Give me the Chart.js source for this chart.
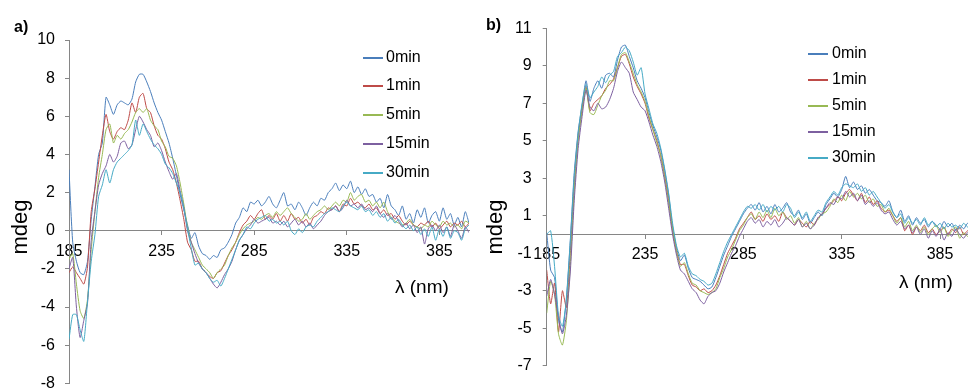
<!DOCTYPE html>
<html>
<head>
<meta charset="utf-8">
<script src="https://cdn.jsdelivr.net/npm/chart.js@4.4.0/dist/chart.umd.min.js"></script>
<style>
  html, body { margin: 0; padding: 0; background: #fff; }
  body { width: 968px; height: 389px; position: relative; overflow: hidden; font-family: "Liberation Sans", Arial, sans-serif; color: #000; }
  canvas { position: absolute; top: 0; }
  #chartA { left: 0; }
  #chartB { left: 480px; }
  .txt { position: absolute; white-space: nowrap; }
  .tag { font-weight: bold; font-size: 16px; line-height: 18px; }
  .xtitle { font-size: 19px; line-height: 22px; }
  .ytitle { font-size: 22px; line-height: 26px; width: 80px; text-align: center; transform: rotate(-90deg); }
  .leg { position: absolute; font-size: 16px; line-height: 20px; white-space: nowrap; }
  .leg i { position: absolute; top: 10px; width: 20px; height: 1.5px; }
  .leg span { position: absolute; top: 0; }
</style>
</head>
<body>
<canvas id="chartA" width="480" height="389"></canvas>
<canvas id="chartB" width="488" height="389"></canvas>

<div class="txt tag" style="left:14px; top:18px;">a)</div>
<div class="txt tag" style="left:486px; top:16px;">b)</div>
<div class="txt ytitle" style="left:-20px; top:214px;">mdeg</div>
<div class="txt ytitle" style="left:455px; top:214px;">mdeg</div>
<div class="txt xtitle" style="left:395px; top:276px;">λ (nm)</div>
<div class="txt xtitle" style="left:899px; top:271px;">λ (nm)</div>
<div id="legendA"></div>
<div id="legendB"></div>

<script>
// wavelength (nm), every 2 nm
const WAVELENGTHS = [
  185, 187, 189, 191, 193, 195, 197, 199, 201, 203,
  205, 207, 209, 211, 213, 215, 217, 219, 221, 223,
  225, 227, 229, 231, 233, 235, 237, 239, 241, 243,
  245, 247, 249, 251, 253, 255, 257, 259, 261, 263,
  265, 267, 269, 271, 273, 275, 277, 279, 281, 283,
  285, 287, 289, 291, 293, 295, 297, 299, 301, 303,
  305, 307, 309, 311, 313, 315, 317, 319, 321, 323,
  325, 327, 329, 331, 333, 335, 337, 339, 341, 343,
  345, 347, 349, 351, 353, 355, 357, 359, 361, 363,
  365, 367, 369, 371, 373, 375, 377, 379, 381, 383,
  385, 387, 389, 391, 393, 395, 397, 399, 401,
];

const SERIES_NAMES = ["0min", "1min", "5min", "15min", "30min"];
const X_TICKS = [185, 235, 285, 335, 385];
const A_Y_TICKS = [-8, -6, -4, -2, 0, 2, 4, 6, 8, 10];
const B_Y_TICKS = [-7, -5, -3, -1, 1, 3, 5, 7, 9, 11];

// panel a) mdeg
const A_0MIN = [
  3.2, -0.6, -1.6, -2.2, -2.3, -1.6, 0.6, 2.3, 4.0, 4.6,
  7.0, 6.6, 6.1, 6.6, 6.8, 6.7, 6.6, 6.9, 7.8, 8.2,
  8.2, 7.8, 7.3, 6.7, 6.2, 5.8, 5.2, 4.6, 3.8, 2.9,
  1.9, 1.1, 0.3, -0.4, -0.1, -0.8, -1.2, -1.3, -1.5, -1.3,
  -1.4, -1.0, -0.9, -0.6, -0.2, 0.4, 0.7, 1.2, 1.0, 1.5,
  1.4, 1.6, 1.3, 1.5, 1.8, 1.4, 1.2, 1.6, 2.0, 1.3,
  1.4, 1.1, 1.5, 1.2, 0.8, 1.2, 1.5, 1.3, 1.7, 1.6,
  2.0, 2.2, 2.5, 2.1, 2.4, 2.2, 2.6, 2.0, 2.3, 1.9,
  2.2, 1.8, 1.9, 1.5, 1.7, 1.2, 1.9, 1.3, 1.1, 0.8,
  1.3, 0.6, 0.9, 0.4, 1.1, 0.7, 1.2, 0.4, 0.8, 1.0,
  0.5, 1.2, 0.6, 0.9, 0.3, 0.7, 0.2, 1.0, 0.4,
];
const A_1MIN = [
  -2.2, -1.9, -2.2, -2.5, -2.8, -1.9, 1.0, 2.2, 3.6, 5.0,
  6.1, 5.2, 4.8, 5.2, 5.4, 5.3, 5.8, 6.7, 6.2, 7.0,
  7.2, 6.4, 6.2, 5.5, 5.0, 4.8, 4.3, 3.6, 3.2, 2.5,
  1.6, 0.6, -0.6, -1.0, -1.6, -1.6, -2.0, -2.2, -2.4, -2.5,
  -2.2, -2.1, -1.7, -1.3, -1.0, -0.6, -0.1, 0.3, 0.5, 0.8,
  0.6, 0.9, 1.1, 0.6, 0.8, 0.6, 0.9, 0.5, 0.8, 0.5,
  0.9, 0.6, 0.7, 0.4, 0.6, 0.3, 0.7, 0.8, 1.0, 0.9,
  1.2, 1.1, 1.3, 1.0, 1.4, 1.3, 1.7, 1.4, 1.5, 1.3,
  1.2, 1.4, 1.1, 1.2, 0.9, 1.1, 0.8, 0.9, 0.6, 0.8,
  0.5, 0.3, 0.5, 0.3, 0.2, 0.4, 0.3, 0.5, 0.2, 0.4,
  0.1, 0.3, 0.5, 0.2, 0.4, 0.3, 0.5, 0.2, 0.4,
];
const A_5MIN = [
  -1.5, -1.2, -2.8, -4.2, -4.6, -3.6, -1.0, 1.0, 2.8, 4.0,
  5.3, 5.6, 4.6, 5.0, 4.8, 5.1, 5.3, 5.7, 6.2, 6.4,
  6.2, 6.4, 5.8, 5.5, 5.3, 4.7, 4.4, 3.9, 3.8, 3.4,
  2.5, 1.4, 0.2, -0.6, -1.0, -1.4, -1.8, -2.0, -2.2, -2.5,
  -2.2, -2.0, -1.8, -1.3, -0.9, -0.6, -0.2, 0.1, 0.3, 0.4,
  0.5, 0.7, 0.6, 0.8, 0.9, 0.7, 1.0, 0.8, 1.0, 1.2,
  0.9, 0.7, 0.5, 0.6, 0.9, 0.6, 0.8, 1.0, 1.1, 1.3,
  1.1, 1.3, 1.5, 1.3, 1.6, 1.5, 2.0, 1.6, 1.8, 1.9,
  1.5, 1.6, 1.3, 1.5, 1.2, 1.5, 1.0, 0.7, 0.5, 0.4,
  0.3, 0.4, 0.6, 0.3, 0.2, 0.1, 0.3, 0.2, 0.5, 0.3,
  0.2, 0.5, 0.3, 0.4, 0.2, 0.3, 0.1, 0.5, 0.4,
];
const A_15MIN = [
  -2.0, -1.4, -4.0, -5.6, -4.7, -3.8, -0.5, 1.0, 2.4, 3.0,
  3.4, 4.0, 3.6, 3.9, 4.6, 4.7, 4.3, 4.5, 5.3, 6.0,
  5.7, 5.3, 5.0, 4.4, 4.6, 4.2, 3.6, 3.1, 2.7, 3.0,
  2.1, 1.2, 0.0, -0.6, -1.2, -1.7, -2.0, -2.2, -2.5, -2.8,
  -3.0, -2.7, -2.3, -2.0, -1.6, -1.0, -0.5, -0.2, 0.1, 0.3,
  0.6, 0.4, 0.5, 0.6, 0.7, 0.4, 0.5, 0.3, 0.5, 0.2,
  0.4, 0.6, 0.3, 0.5, 0.2, 0.4, 0.1, 0.3, 0.5, 0.8,
  1.0, 1.1, 1.3, 1.0, 1.2, 1.6, 1.3, 1.4, 1.2, 1.4,
  1.1, 1.2, 1.0, 1.3, 0.9, 0.7, 0.9, 0.6, 0.8, 0.5,
  0.2, 0.4, 0.1, 0.3, -0.1, 0.2, -0.7, 0.1, 0.3, 0.0,
  0.3, -0.1, 0.2, -0.3, 0.3, 0.0, -0.4, 0.2, -0.1,
];
const A_30MIN = [
  -5.7, -4.4, -4.4, -5.2, -5.8, -3.7, -1.6, -0.2, 1.8, 2.4,
  3.2, 2.5, 3.2, 3.6, 3.8, 4.0, 4.2, 4.5, 5.8, 5.0,
  5.6, 5.2, 4.8, 4.5, 4.3, 4.0, 3.5, 3.3, 3.0, 2.5,
  2.0, 1.2, 0.1, -0.9, -1.8, -1.7, -2.0, -2.2, -2.5, -2.7,
  -2.6, -2.9, -2.5, -2.0, -1.5, -1.0, -0.5, -0.2, 0.2, 0.1,
  0.4, 0.6, 0.7, 0.8, 0.5, 0.6, 0.4, 0.5, 0.3, 0.5,
  0.0, -0.2, 0.1, -0.1, 0.2, 0.3, 0.2, 0.5, 0.7, 0.9,
  1.0, 1.2, 1.1, 1.0, 1.3, 1.5, 1.3, 1.2, 1.1, 1.3,
  1.0, 1.1, 0.8, 1.0, 0.7, 0.9, 0.5, 0.7, 0.4, 0.6,
  0.3, 0.1, 0.3, 0.0, 0.2, -0.2, 0.1, -0.3, 0.2, -0.5,
  0.1, -0.3, 0.2, -0.4, 0.0, -0.1, -0.5, 0.1, 0.3,
];

// panel b) mdeg
const B_0MIN = [
  0.1, -1.9, -2.3, -4.6, -5.2, -3.4, -0.3, 3.3, 5.5, 6.9,
  8.2, 7.1, 7.8, 8.2, 7.8, 8.5, 8.6, 8.4, 9.3, 10.0,
  10.1, 9.5, 8.9, 8.2, 7.8, 7.3, 6.5, 5.8, 5.2, 4.5,
  3.4, 2.1, 0.4, -0.7, -1.4, -1.1, -1.8, -2.3, -2.4, -2.5,
  -2.7, -2.9, -2.8, -2.3, -1.7, -1.1, -0.6, -0.1, 0.3, 0.7,
  1.1, 1.4, 1.6, 1.3, 1.7, 1.2, 1.5, 1.1, 1.6, 1.2,
  1.4, 1.7, 1.2, 1.0, 1.3, 0.8, 1.1, 0.6, 0.9, 1.2,
  1.0, 1.6, 1.9, 2.2, 2.0, 2.4, 3.1, 2.5, 2.8, 2.4,
  2.6, 2.2, 2.4, 2.1, 1.8, 1.7, 1.5, 1.8, 1.2, 0.9,
  1.3, 0.7, 1.0, 0.5, 0.9, 0.6, 0.8, 0.4, 0.7, 0.5,
  0.3, 0.7, 0.4, 0.6, 0.2, 0.5, 0.3, 0.6, 0.4,
];
const B_1MIN = [
  -1.9, -3.7, -2.6, -5.2, -3.0, -3.9, -1.0, 2.6, 5.2, 6.7,
  7.9, 6.6, 7.0, 7.2, 7.4, 7.8, 8.0, 8.3, 8.9, 9.5,
  9.6, 9.1, 8.4, 7.9, 7.5, 7.0, 6.2, 5.6, 5.0, 4.2,
  3.1, 1.8, 0.2, -0.9, -1.6, -1.6, -2.2, -2.7, -2.8, -3.0,
  -2.9, -3.1, -3.0, -2.7, -2.2, -1.6, -1.0, -0.6, -0.2, 0.3,
  0.6, 0.9, 1.2, 0.8, 1.0, 0.7, 1.1, 0.8, 1.0, 0.7,
  1.2, 0.9, 0.7, 0.5, 0.8, 0.6, 0.4, 0.7, 0.5, 0.9,
  1.1, 1.4, 1.6, 1.8, 2.0, 1.8, 2.2, 2.4, 2.1, 1.8,
  2.2, 1.7, 2.0, 1.6, 1.8, 1.4, 1.2, 1.3, 1.0, 0.7,
  0.9, 0.2, 0.5, 0.0, 0.4, 0.2, 0.5, 0.1, 0.3, 0.0,
  0.2, 0.4, 0.0, 0.3, 0.1, 0.4, 0.0, 0.2, 0.1,
];
const B_5MIN = [
  -4.2, -2.5, -3.2, -5.3, -5.9, -4.6, -1.6, 2.3, 5.0, 6.6,
  7.8, 6.5, 6.4, 6.9, 7.4, 7.7, 8.2, 8.2, 8.9, 9.6,
  9.7, 9.2, 8.6, 8.0, 7.6, 7.1, 6.3, 5.6, 4.9, 4.2,
  3.0, 1.7, 0.3, -0.9, -1.7, -1.5, -2.1, -2.6, -2.7, -3.0,
  -3.1, -3.2, -3.1, -2.9, -2.3, -1.8, -1.2, -0.8, -0.3, 0.2,
  0.5, 0.9, 1.1, 0.8, 1.2, 0.9, 1.3, 0.9, 1.4, 1.0,
  1.2, 0.8, 1.0, 0.6, 0.9, 0.4, 0.7, 0.3, 0.6, 0.8,
  1.1, 1.2, 1.5, 1.9, 1.7, 2.1, 1.8, 2.3, 2.0, 2.2,
  1.9, 2.1, 1.7, 1.9, 1.5, 1.6, 1.2, 1.4, 1.0, 0.6,
  0.9, 0.4, 0.7, 0.2, 0.5, 0.1, 0.4, 0.0, 0.3, 0.5,
  0.1, 0.4, -0.1, 0.2, 0.4, -0.2, 0.1, -0.1, 0.2,
];
const B_15MIN = [
  -3.3, -2.4, -3.2, -4.4, -5.3, -4.3, -2.0, 1.8, 4.6, 6.3,
  7.7, 6.8, 6.6, 7.0, 6.7, 6.8, 7.2, 7.8, 8.7, 9.2,
  8.9, 8.6, 7.6, 7.2, 6.8, 6.6, 6.0, 5.3, 4.7, 3.9,
  2.8, 1.4, 0.0, -1.1, -1.9, -2.1, -2.5, -2.9, -3.1, -3.5,
  -3.7, -3.3, -3.1, -3.0, -2.6, -2.0, -1.5, -1.0, -0.6, -0.1,
  0.3, 0.7, 0.9, 0.6, 0.8, 0.4, 0.7, 0.5, 0.8, 0.4,
  0.6, 0.9, 0.7, 0.5, 0.8, 0.4, 0.6, 0.3, 0.5, 0.9,
  1.1, 1.4, 1.7, 1.6, 2.0, 1.9, 2.3, 2.0, 2.2, 1.8,
  2.1, 1.6, 1.8, 1.5, 1.7, 1.3, 1.1, 1.2, 0.8, 0.5,
  0.7, 0.3, 0.5, 0.1, 0.4, 0.0, 0.3, -0.2, 0.2, -0.1,
  0.3, -0.3, 0.1, -0.1, 0.3, 0.0, -0.2, 0.1, 0.0,
];
const B_30MIN = [
  0.0, 0.2, -1.7, -4.3, -4.9, -3.5, -0.4, 3.1, 5.4, 7.0,
  8.0, 7.3, 7.6, 7.9, 8.4, 8.1, 8.5, 8.7, 9.5, 9.7,
  10.0, 9.8, 9.2, 8.5, 8.9, 7.5, 6.7, 5.9, 5.4, 4.6,
  3.5, 2.2, 0.6, -0.6, -1.2, -1.0, -1.7, -2.1, -2.2, -2.4,
  -2.5, -2.7, -2.6, -2.1, -1.5, -0.9, -0.4, 0.0, 0.4, 0.8,
  1.2, 1.5, 1.4, 1.6, 1.3, 1.6, 1.2, 1.5, 1.3, 1.5,
  1.2, 1.6, 1.4, 0.9, 1.2, 0.9, 1.2, 0.7, 1.0, 1.3,
  1.2, 1.7, 2.0, 2.3, 2.1, 2.5, 2.7, 2.6, 2.5, 2.7,
  2.3, 2.5, 2.1, 2.3, 2.0, 1.7, 1.4, 1.6, 1.2, 0.9,
  1.1, 0.6, 0.9, 0.6, 0.8, 0.5, 0.9, 0.5, 0.7, 0.4,
  0.6, 0.3, 0.6, 0.4, 0.5, 0.3, 0.6, 0.4, 0.5,
];

const COLORS = ["#4A7EBB", "#BE4B48", "#98B954", "#7D60A0", "#46AAC5"];
const AXIS_GRAY = "#868686";
const FONT = { family: "'Liberation Sans', Arial, sans-serif", size: 16 };

function buildLegend(el, lineLeft, textLeft, firstY, step) {
  SERIES_NAMES.forEach((name, i) => {
    const row = document.createElement("div");
    row.className = "leg";
    row.style.left = lineLeft + "px";
    row.style.top = Math.round(firstY + i * step - 10) + "px";
    row.innerHTML = `<i style="left:0;background:${COLORS[i]}"></i><span style="left:${textLeft - lineLeft}px">${name}</span>`;
    el.appendChild(row);
  });
}

function makeChart(canvasId, series, cfg) {
  return new Chart(document.getElementById(canvasId), {
    type: "line",
    data: {
      datasets: series.map((vals, i) => ({
        label: SERIES_NAMES[i],
        data: WAVELENGTHS.map((x, j) => ({ x, y: vals[j] })),
        borderColor: COLORS[i],
        backgroundColor: COLORS[i],
        borderWidth: 1,
        pointRadius: 0,
        tension: 0.2,
        fill: false,
        order: series.length - i,
      })),
    },
    options: {
      responsive: false,
      animation: false,
      devicePixelRatio: 1,
      layout: { padding: cfg.padding },
      plugins: { legend: { display: false }, tooltip: { enabled: false } },
      scales: {
        x: {
          type: "linear",
          position: { y: 0 },
          min: 185,
          max: cfg.xMax,
          afterBuildTicks: (s) => { s.ticks = X_TICKS.map((v) => ({ value: v })); },
          grid: { drawOnChartArea: false, drawTicks: true, tickLength: 4, color: AXIS_GRAY },
          border: { color: AXIS_GRAY, width: 1 },
          ticks: { font: FONT, color: "#000", padding: cfg.xPad, maxRotation: 0, autoSkip: false },
        },
        y: {
          type: "linear",
          position: "left",
          min: cfg.yTicks[0],
          max: cfg.yTicks[cfg.yTicks.length - 1],
          afterBuildTicks: (s) => { s.ticks = cfg.yTicks.map((v) => ({ value: v })); },
          afterFit: (s) => { s.width = cfg.yWidth; s.paddingTop = 0; s.paddingBottom = 0; },
          grid: { drawOnChartArea: false, drawTicks: true, tickLength: 4, color: AXIS_GRAY },
          border: { color: AXIS_GRAY, width: 1 },
          ticks: { font: FONT, color: "#000", padding: cfg.yPad, autoSkip: false },
        },
      },
    },
  });
}

makeChart("chartA", [A_0MIN, A_1MIN, A_5MIN, A_15MIN, A_30MIN], {
  padding: { left: 0, top: 40, right: 11, bottom: 5.7 },
  xMax: 401,
  yTicks: A_Y_TICKS,
  yWidth: 69,
  xPad: 7,
  yPad: 10,
});

makeChart("chartB", [B_0MIN, B_1MIN, B_5MIN, B_15MIN, B_30MIN], {
  padding: { left: 0, top: 28.3, right: 0, bottom: 23.3 },
  xMax: 399.2,
  yTicks: B_Y_TICKS,
  yWidth: 66.7,
  xPad: 7,
  yPad: 11,
});

buildLegend(document.getElementById("legendA"), 363, 386, 56.7, 28.7);
buildLegend(document.getElementById("legendB"), 808, 832, 53.3, 26);
</script>
</body>
</html>
